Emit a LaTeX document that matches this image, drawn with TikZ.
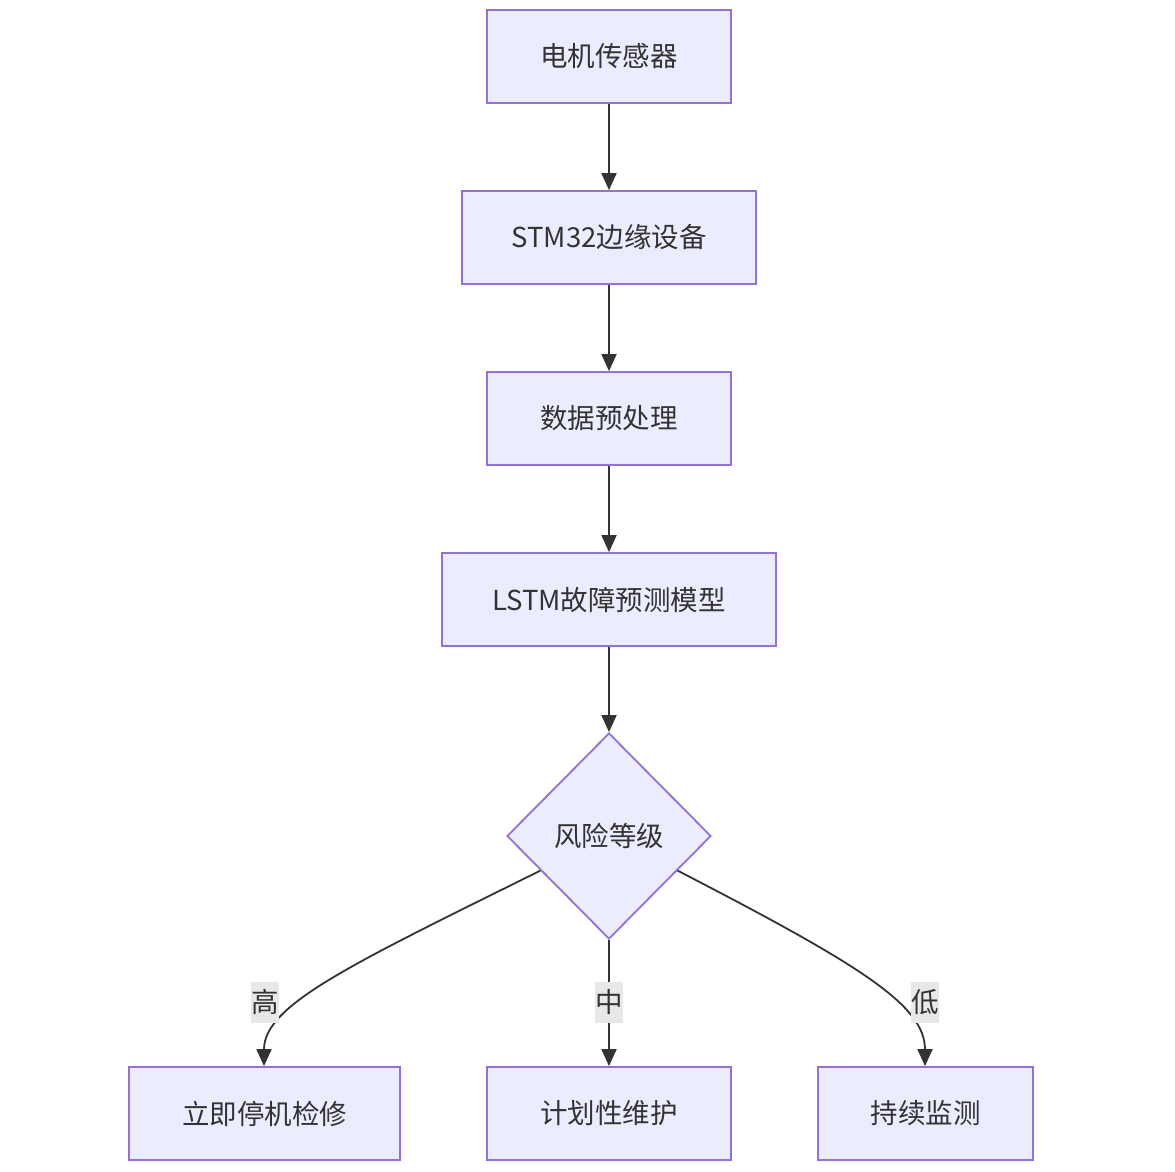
\documentclass[tikz,border=0pt]{standalone}
\usepackage{fontspec}
\setmainfont{Noto Sans CJK SC}
\usetikzlibrary{shapes.geometric,arrows.meta,calc}
\definecolor{boxfill}{HTML}{ECECFF}
\definecolor{boxline}{HTML}{9370DB}
\definecolor{ink}{HTML}{333333}
\definecolor{lblbg}{HTML}{E8E8E8}
\begin{document}
\begin{tikzpicture}[x=1pt,y=-1pt,
  procbox/.style={draw=boxline,fill=boxfill,line width=1.8pt,inner sep=0pt,
    minimum height=93pt,font=\fontsize{27.5pt}{32pt}\selectfont,text=ink},
  decbox/.style={diamond,draw=boxline,fill=boxfill,line width=1.8pt,inner sep=0pt,
    minimum width=204pt,minimum height=206pt,font=\fontsize{27.5pt}{32pt}\selectfont,text=ink},
  flow/.style={draw=ink,line width=1.8pt,-{Triangle[length=17pt,width=15pt]}},
  edgelbl/.style={fill=lblbg,inner sep=0pt,minimum width=28pt,minimum height=41pt,
    font=\fontsize{27.5pt}{32pt}\selectfont,text=ink}]
\useasboundingbox (0,0) rectangle (1175,1171);
\fill[white] (0,0) rectangle (1175,1171);
\node[procbox,minimum width=244pt] (a) at (609,56.5) {电机传感器};
\node[procbox,minimum width=294pt] (b) at (609,237.5) {STM32边缘设备};
\node[procbox,minimum width=244pt] (c) at (609,418.5) {数据预处理};
\node[procbox,minimum width=334pt] (m) at (609,599.5) {LSTM故障预测模型};
\node[decbox] (d) at (609,836) {风险等级};
\node[procbox,minimum width=271pt] (h) at (264.5,1113.5) {立即停机检修};
\node[procbox,minimum width=244pt] (p) at (609,1113.5) {计划性维护};
\node[procbox,minimum width=215pt] (l) at (925.5,1113.5) {持续监测};
\draw[flow] (a) -- (b);
\draw[flow] (b) -- (c);
\draw[flow] (c) -- (m);
\draw[flow] (m) -- (d);
\coordinate (dl) at ($(d.west)!0.333!(d.south)$);
\coordinate (dr) at ($(d.east)!0.333!(d.south)$);
\draw[flow] (dl) .. controls (350,965) and (264,1005) .. (h.north -| 264,0);
\draw[flow] (d.south) -- (p.north);
\draw[flow] (dr) .. controls (860,965) and (925,1005) .. (l.north -| 925,0);
\node[edgelbl] (lh) at (265,1002) {高};
\node[edgelbl] (lp) at (609,1002) {中};
\node[edgelbl] (ll) at (925,1002) {低};
\end{tikzpicture}
\end{document}
